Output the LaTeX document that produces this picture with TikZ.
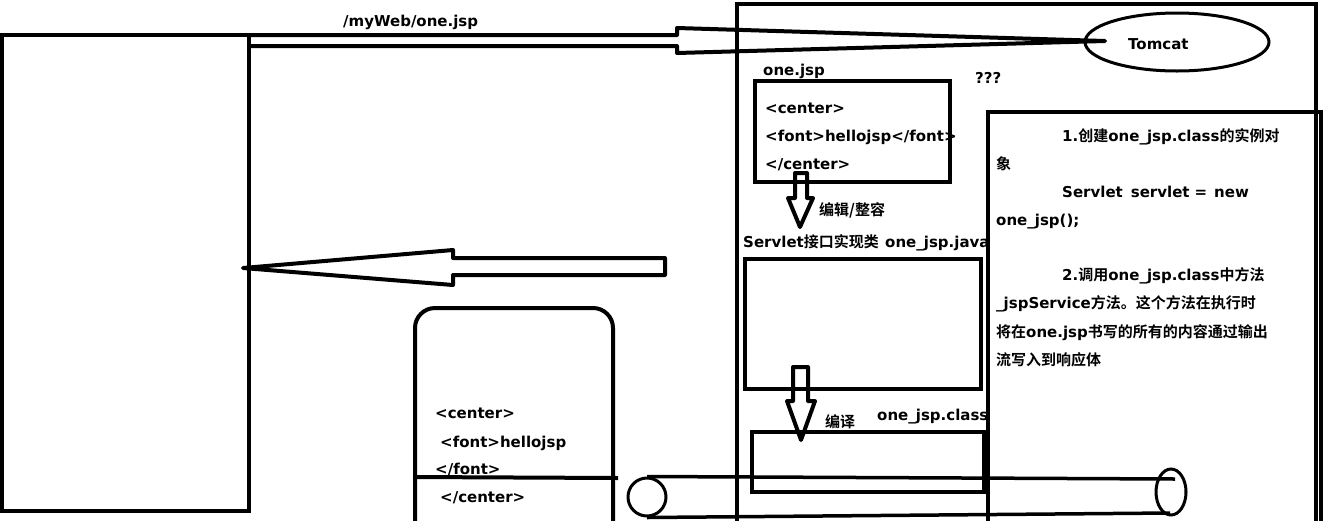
\documentclass[tikz,border=0pt]{standalone}
\usepackage{fontspec}
\setmainfont{DejaVu Sans}
\newfontfamily\cjk{Noto Sans CJK SC}[BoldFont={Noto Sans CJK SC Bold}]
\newcommand\zhtxt[1]{{\cjk\bfseries #1}}
\usetikzlibrary{shapes.geometric}
\begin{document}
\begin{tikzpicture}[x=1pt,y=-1pt,
  box/.style={draw,line width=4pt,inner sep=0pt,fill=none},
  thinbox/.style={draw,line width=3pt,inner sep=0pt},
  lbl/.style={anchor=base west,inner sep=0pt,font=\fontsize{15}{18}\selectfont\bfseries},
  blockarrow/.style={draw,line width=4pt,line join=round},
]
\useasboundingbox (0,0) rectangle (1324,520);
\clip (0,0) rectangle (1324,520);
\fill[white] (0,0) rectangle (1324,520);
% boxes
\node[box,minimum width=247pt,minimum height=476pt] (browser) at (125.5,273) {};
\node[box,minimum width=579pt,minimum height=536pt] (server) at (1026.5,272) {};
\node[box,minimum width=333pt,minimum height=428pt] (desc) at (1154.5,326) {};
\node[box,line width=4.5pt,minimum width=195pt,minimum height=101pt] (jsp) at (852.5,131.5) {};
\node[box,minimum width=236pt,minimum height=130pt] (java) at (863,324) {};
\node[box,minimum width=232pt,minimum height=60pt] (cls) at (868,462) {};
\node[box,rounded corners=20pt,minimum width=198pt,minimum height=252pt] (resp) at (514,434) {};
\node[thinbox,ellipse,minimum width=184pt,minimum height=58pt] (tomcat) at (1177,42) {};
% request arrow
\coordinate (reqA) at (249,35);
\coordinate (reqB) at (249,46);
\coordinate (reqTip) at (1105,41);
\draw[blockarrow] (reqA) -- (677,35) -- (677,28) -- (reqTip) -- (677,53) -- (677,46) -- (reqB);
% response arrow
\coordinate (respTip) at (243,268);
\draw[blockarrow] (respTip) -- (453,250) -- (453,258) -- (665,258) -- (665,275) -- (453,275) -- (453,285) -- cycle;
% down arrows
\draw[blockarrow] (795,173) -- (807,173) -- (807,198) -- (813,198) -- (800,227) -- (788,198) -- (795,198) -- cycle;
\draw[blockarrow] (793,367) -- (808,367) -- (808,401) -- (815,401) -- (801,440) -- (787,401) -- (793,401) -- cycle;
% line across response box
\coordinate (cutL) at (413,477);
\coordinate (cutR) at (618,478);
\draw[line width=4pt] (cutL) -- (cutR);
% cylinder (output stream)
\node[thinbox,circle,minimum size=38pt] (lc) at (647,497) {};
\node[thinbox,ellipse,minimum width=30pt,minimum height=46pt] (rc) at (1171,492) {};
\coordinate (ctop) at (1175,479);
\coordinate (cbot) at (1170,513);
\draw[line width=3.5pt] (lc.north) -- (ctop);
\draw[line width=3.5pt] (lc.south) -- (cbot);
% texts
\node[lbl] (t1) at (343,26) {/myWeb/one.jsp};
\node[lbl] (t2) at (1128,49) {Tomcat};
\node[lbl] (t3) at (763,75) {one.jsp};
\node[lbl] (t4) at (975,83) {???};
\node[lbl] (t5) at (765,113) {<center>};
\node[lbl] (t6) at (765,141) {<font>hellojsp</font>};
\node[lbl] (t7) at (765,169) {</center>};
\node[lbl] (t8) at (819,215) {\zhtxt{编辑/整容}};
\node[lbl] (t9) at (743,247) {Servlet\zhtxt{接口实现类}};
\node[lbl] (t10) at (885,247) {one\_jsp.java};
\node[lbl] (t11) at (825,427) {\zhtxt{编译}};
\node[lbl] (t12) at (877,420) {one\_jsp.class};
\node[lbl] (r1) at (435,418) {<center>};
\node[lbl] (r2) at (440,447) {<font>hellojsp};
\node[lbl] (r3) at (435,474) {</font>};
\node[lbl] (r4) at (440,502) {</center>};
\node[lbl] (d1) at (1062,141) {1.\zhtxt{创建}one\_jsp.class\zhtxt{的实例对}};
\node[lbl] (d2) at (996,169) {\zhtxt{象}};
\node[lbl] (d3) at (1062,197) {Servlet\hspace{8pt}servlet\hspace{5pt}=\hspace{7pt}new};
\node[lbl] (d4) at (996,225) {one\_jsp();};
\node[lbl] (d5) at (1062,280) {2.\zhtxt{调用}one\_jsp.class\zhtxt{中方法}};
\node[lbl] (d6) at (996,308) {\_jspService\zhtxt{方法。这个方法在执行时}};
\node[lbl] (d7) at (996,337) {\zhtxt{将在}one.jsp\zhtxt{书写的所有的内容通过输出}};
\node[lbl] (d8) at (996,365) {\zhtxt{流写入到响应体}};
\end{tikzpicture}
\end{document}
